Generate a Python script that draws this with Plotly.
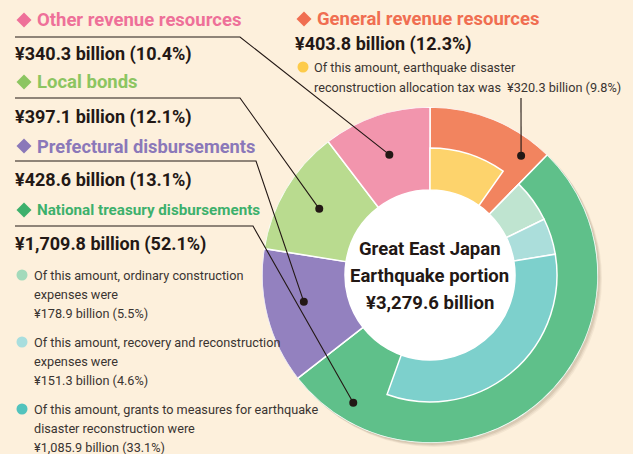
import math
import plotly.graph_objects as go

W, H = 633, 454

# ---------------- data ----------------
total_amount = 3279.6
outer_labels = ["General revenue resources", "National treasury disbursements",
                "Prefectural disbursements", "Local bonds", "Other revenue resources"]
outer_amounts = [403.8, 1709.8, 428.6, 397.1, 340.3]
outer_pcts = [12.3, 52.1, 13.1, 12.1, 10.4]

# sub-items (inner ring); parent index into outer list
inner_labels = ["Earthquake disaster reconstruction allocation tax",
                "Ordinary construction expenses",
                "Recovery and reconstruction expenses",
                "Grants to measures for earthquake disaster reconstruction"]
inner_parent = [0, 1, 1, 1]
inner_amounts = [320.3, 178.9, 151.3, 1085.9]
inner_pcts = [9.8, 5.5, 4.6, 33.1]

# ---------------- style ----------------
BG = "#fdf0dc"
outer_colors = ["#f2845f", "#5fc08a", "#9381bf", "#b9db8f", "#f295ad"]
inner_colors = ["#fdd36c", "#bfe4d0", "#abdedb", "#7dd0cc"]
title_colors = ["#f06e51", "#3db06c", "#8b78b9", "#8cc561", "#ee7099"]
bullet_colors = ["#fdcb4a", "#a3dabb", "#a8dede", "#52c3bd"]

CX, CY = 430, 275          # pixel centre of the donut
R_OUT, R_MID, R_HOLE = 168, 127, 85
FONT = "Roboto, 'Liberation Sans', sans-serif"

def P(x, y):
    return x / W, 1 - y / H

deg_per = 360.0 / total_amount
starts = []
acc = 0.0
for a in outer_amounts:
    starts.append(acc)
    acc += a * deg_per

fig = go.Figure()

for i, lab in enumerate(outer_labels):
    w = outer_amounts[i] * deg_per
    fig.add_trace(go.Barpolar(
        theta=[starts[i] + w / 2], width=[w], base=[R_HOLE], r=[R_OUT - R_HOLE],
        marker=dict(color=outer_colors[i], line=dict(color="white", width=1.5)),
        name=lab, hoverinfo="name"))

sub_acc = {}
for j, lab in enumerate(inner_labels):
    p = inner_parent[j]
    s0 = starts[p] + sub_acc.get(p, 0.0)
    w = inner_amounts[j] * deg_per
    sub_acc[p] = sub_acc.get(p, 0.0) + w
    fig.add_trace(go.Barpolar(
        theta=[s0 + w / 2], width=[w], base=[R_HOLE], r=[R_MID - R_HOLE],
        marker=dict(color=inner_colors[j], line=dict(color="white", width=1.5)),
        name=lab, hoverinfo="name"))

x0, x1 = (CX - R_OUT) / W, (CX + R_OUT) / W
y0, y1 = 1 - (CY + R_OUT) / H, 1 - (CY - R_OUT) / H
fig.update_layout(
    width=W, height=H, margin=dict(l=0, r=0, t=0, b=0),
    paper_bgcolor=BG, showlegend=False,
    polar=dict(domain=dict(x=[x0, x1], y=[y0, y1]), bgcolor="white",
               radialaxis=dict(range=[0, R_OUT], visible=False, showgrid=False),
               angularaxis=dict(visible=False, showgrid=False, direction="clockwise",
                                rotation=90, showline=False, ticks="")),
)

shapes = []
for k, op in [(4, 0.06), (3, 0.08), (2, 0.10)]:
    sx0, sy0 = P(CX - R_OUT + k, CY - R_OUT + k)
    sx1, sy1 = P(CX + R_OUT + k, CY + R_OUT + k)
    shapes.append(dict(type="circle", xref="paper", yref="paper", layer="below",
                       x0=sx0, x1=sx1, y0=sy1, y1=sy0,
                       fillcolor=f"rgba(90,70,40,{op})", line=dict(width=0)))

def dot_pos(angle, r):
    a = math.radians(angle)
    return CX + r * math.sin(a), CY - r * math.cos(a)

def leader(points):
    pts = [P(*q) for q in points]
    path = "M " + " L ".join(f"{x:.5f},{y:.5f}" for x, y in pts)
    shapes.append(dict(type="path", xref="paper", yref="paper", path=path,
                       line=dict(color="#231815", width=1.1)))
    ex, ey = points[-1]
    a, b = P(ex - 4, ey - 4), P(ex + 4, ey + 4)
    shapes.append(dict(type="circle", xref="paper", yref="paper",
                       x0=a[0], x1=b[0], y0=b[1], y1=a[1],
                       fillcolor="#231815", line=dict(width=0)))

mid = lambda i: starts[i] + outer_amounts[i] * deg_per / 2
leader([(15, 37), (240, 37), dot_pos(mid(4), 127)])
leader([(15, 98), (240, 98), dot_pos(mid(3), 129)])
leader([(15, 161), (256, 161), dot_pos(258, 129)])
leader([(15, 226), (253, 226), dot_pos(211, 149)])
leader([(521, 98), dot_pos(37.4, 150)])

def diamond(x, y, color, s=7.5):
    pts = [(x, y - s), (x + s, y), (x, y + s), (x - s, y)]
    pp = [P(*q) for q in pts]
    path = "M " + " L ".join(f"{a:.5f},{b:.5f}" for a, b in pp) + " Z"
    shapes.append(dict(type="path", xref="paper", yref="paper", path=path,
                       fillcolor=color, line=dict(width=0)))

def bullet(x, y, color, r=5.5):
    a, b = P(x - r, y - r), P(x + r, y + r)
    shapes.append(dict(type="circle", xref="paper", yref="paper",
                       x0=a[0], x1=b[0], y0=b[1], y1=a[1],
                       fillcolor=color, line=dict(width=0)))

anns = []
def text(x, y, s, size, color="#231815", bold=False, anchor="left"):
    px, py = P(x, y)
    anns.append(dict(x=px, y=py, xref="paper", yref="paper", xanchor=anchor,
                     yanchor="middle", showarrow=False,
                     text=f"<b>{s}</b>" if bold else s,
                     font=dict(family=FONT, size=size, color=color)))

def amount_str(a, p):
    return f"¥{a:,.1f} billion ({p}%)"

VS, SS = 18, 12.7
left_items = [(4, 20, 54, 18.5), (3, 82, 117, 18.5), (2, 146, 180, 18.3), (1, 210, 244, 15.2)]
for idx, ty, vy, ts in left_items:
    diamond(24, ty, title_colors[idx])
    text(35, ty, outer_labels[idx], ts, title_colors[idx], bold=True)
    text(13, vy, amount_str(outer_amounts[idx], outer_pcts[idx]), VS, bold=True)

diamond(304, 19, title_colors[0])
text(315, 19, outer_labels[0], 18.5, title_colors[0], bold=True)
text(293, 44, amount_str(outer_amounts[0], outer_pcts[0]), VS, bold=True)
bullet(303, 67, bullet_colors[0])
text(312, 67, "Of this amount, earthquake disaster", SS, "#3a3431")
text(312, 87, "reconstruction allocation tax was", SS, "#3a3431")
text(505, 87, amount_str(inner_amounts[0], inner_pcts[0]), SS, "#3a3431")

sub_texts = [
    ("Of this amount, ordinary construction", "expenses were"),
    ("Of this amount, recovery and reconstruction", "expenses were"),
    ("Of this amount, grants to measures for earthquake", "disaster reconstruction were"),
]
sub_y = [275, 342, 409]
for k, (l1, l2) in enumerate(sub_texts):
    y = sub_y[k]
    bullet(22, y, bullet_colors[k + 1])
    text(32, y, l1, SS, "#3a3431")
    text(32, y + 19, l2, SS, "#3a3431")
    text(32, y + 38, amount_str(inner_amounts[k + 1], inner_pcts[k + 1]), SS, "#3a3431")

CS = 18.5
text(CX, 249, "Great East Japan", CS, bold=True, anchor="center")
text(CX, 276, "Earthquake portion", CS, bold=True, anchor="center")
text(CX, 303, f"¥{total_amount:,.1f} billion", CS, bold=True, anchor="center")

fig.update_layout(shapes=shapes, annotations=anns)
fig.write_html("out.html", config={"displayModeBar": False},
               post_script="document.body.style.margin='0px';")
